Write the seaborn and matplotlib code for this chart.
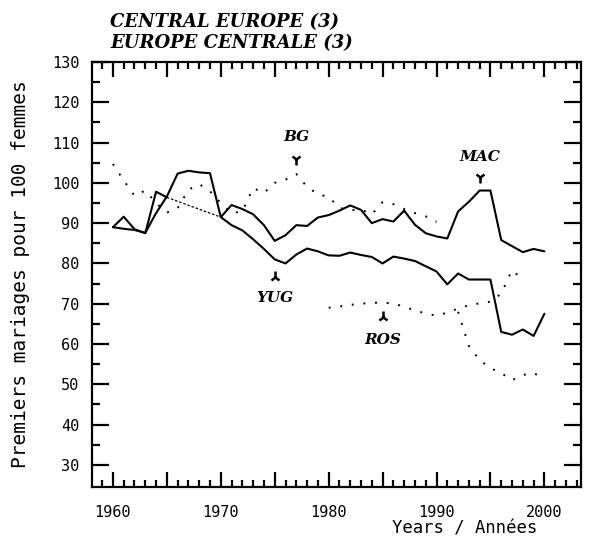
import numpy as np
import pandas as pd
import matplotlib
matplotlib.use('Agg')
import matplotlib.pyplot as plt
import seaborn as sns
from matplotlib.ticker import MultipleLocator, FixedLocator

# first marriages per 100 women
years = list(range(1960, 2001))

yug = [89.0, 88.6, 88.3, 87.6, 92.5, 96.6, 102.3, 103.0, 102.6, 102.4,
       91.5, 89.5, 88.2, 86.0, 83.6, 81.0, 80.0, 82.2, 83.7, 83.0,
       82.0, 81.9, 82.7, 82.1, 81.6, 80.0, 81.7, 81.2, 80.6, 79.3,
       78.0, 74.8, 77.5, 76.0, 76.0, 76.0, 63.0, 62.3, 63.6, 62.0, 67.5]

mac_years_a = list(range(1960, 1966))
mac_a = [89.0, 91.6, 88.5, 87.5, 97.8, 96.4]
mac_years_b = list(range(1970, 2001))
mac_b = [91.5, 94.5, 93.5, 92.2, 89.5, 85.6, 87.0, 89.5, 89.3, 91.4,
         92.0, 93.1, 94.4, 93.3, 90.0, 91.0, 90.4, 93.1, 89.6, 87.5,
         86.7, 86.2, 92.9, 95.3, 98.1, 98.1, 85.8, 84.3, 82.8, 83.6, 83.0]

bg_years_a = list(range(1960, 1991))
bg_a = [104.7, 100.6, 96.8, 98.1, 95.0, 92.6, 93.7, 98.3, 99.7, 97.9,
        95.0, 92.4, 93.0, 98.7, 97.5, 100.0, 100.8, 102.2, 99.0, 97.2,
        96.5, 93.8, 93.2, 93.4, 92.2, 95.2, 94.7, 93.5, 92.5, 91.7, 90.3]
bg_years_b = list(range(1992, 2001))
bg_b = [68.0, 59.5, 56.0, 54.0, 52.8, 51.0, 52.3, 52.8, 51.4]

ros_years = list(range(1980, 1999))
ros = [69.0, 69.3, 69.7, 70.0, 70.2, 70.3, 70.0, 69.3, 68.3, 67.6,
       67.0, 67.8, 68.8, 69.6, 70.1, 70.5, 72.5, 78.3, 76.0]

# name, label pos, arrow pos, arrow marker
labels = [("BG", (1977, 111.4), (1977, 105.9), "1"),
          ("MAC", (1994, 106.5), (1994, 101.5), "1"),
          ("YUG", (1975, 71.4), (1975, 76.7), "2"),
          ("ROS", (1985, 61.0), (1985, 66.8), "2")]

sns.set_theme(style="white")
plt.rcParams['font.family'] = ['DejaVu Sans Mono', 'DejaVu Sans']
plt.rcParams.update({'text.color': 'black', 'axes.labelcolor': 'black',
                     'xtick.color': 'black', 'ytick.color': 'black',
                     'axes.edgecolor': 'black'})

title_font = dict(family='DejaVu Serif', style='italic', weight='bold')

fig = plt.figure(figsize=(5.89, 5.49), dpi=100)
ax = fig.add_axes([0.156, 0.113, 0.8305, 0.774])

solid = dict(color='black', linewidth=1.5)
dotted = dict(color='black', linewidth=1.4, linestyle=(0, (1, 5)))

sns.lineplot(x=years, y=yug, ax=ax, **solid)
sns.lineplot(x=mac_years_a, y=mac_a, ax=ax, **solid)
sns.lineplot(x=mac_years_b, y=mac_b, ax=ax, **solid)
# missing years for MAC bridged by a thin line
sns.lineplot(x=[mac_years_a[-1], mac_years_b[0]], y=[mac_a[-1], mac_b[0]], ax=ax,
             color='black', linewidth=0.9, linestyle=(0, (2, 1.5)))
sns.lineplot(x=bg_years_a, y=bg_a, ax=ax, **dotted)
sns.lineplot(x=bg_years_b, y=bg_b, ax=ax, **dotted)
sns.lineplot(x=ros_years, y=ros, ax=ax, **dotted)

for name, tpos, apos, mk in labels:
    ax.text(tpos[0], tpos[1], name, ha='center', va='center', fontsize=11,
            **title_font)
    ax.plot([apos[0]], [apos[1]], marker=mk, color='black', markersize=8, mew=1.8)

ax.set_xlim(1958.05, 2003.4)
ax.set_ylim(24.5, 130)

ax.set_xticks(range(1960, 2005, 5))
ax.set_xticklabels([str(y) if y % 10 == 0 else '' for y in range(1960, 2005, 5)])
ax.set_yticks(range(30, 131, 10))
ax.xaxis.set_minor_locator(FixedLocator([y for y in range(1959, 2004) if y % 5]))
ax.yaxis.set_minor_locator(FixedLocator(range(35, 130, 10)))

ax.tick_params(axis='x', which='major', direction='in', length=11, width=1.6,
               top=True, bottom=True, pad=13, labelsize=11)
ax.tick_params(axis='y', which='major', direction='in', length=12, width=1.6,
               left=True, right=True, pad=9, labelsize=11)
ax.tick_params(axis='x', which='minor', direction='in', length=5, width=1.6,
               top=True, bottom=True, color='black')
ax.tick_params(axis='y', which='minor', direction='in', length=6, width=1.6,
               left=True, right=True, color='black')

for s in ax.spines.values():
    s.set_linewidth(1.6)
    s.set_color('black')

ax.set_xlabel('')
ax.set_ylabel('')

fig.text(0.034, 0.5, 'Premiers mariages pour 100 femmes', rotation=90,
         ha='center', va='center', fontsize=14)
fig.text(0.788, 0.038, 'Years / Années', ha='center', va='center', fontsize=12.4)

fig.text(0.187, 0.96, 'CENTRAL EUROPE (3)', ha='left', va='center', fontsize=13,
         **title_font)
fig.text(0.187, 0.921, 'EUROPE CENTRALE (3)', ha='left', va='center', fontsize=13,
         **title_font)

plt.savefig('out.png', dpi=100)
